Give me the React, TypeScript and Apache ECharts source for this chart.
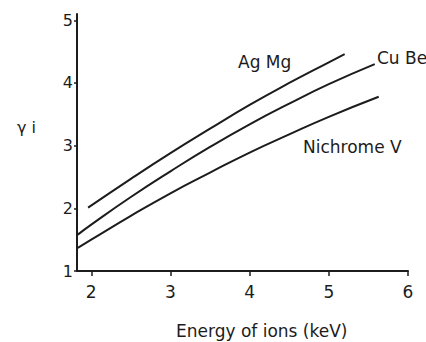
import React, { useEffect, useRef } from "react";
import * as echarts from "echarts";

const xTicks = [2, 3, 4, 5, 6];
const yTicks = [1, 2, 3, 4, 5];

const agMgX = [1.96, 2.5, 3.0, 3.5, 4.0, 4.5, 5.0, 5.2];
const agMgY = [2.01, 2.47, 2.88, 3.27, 3.65, 4.0, 4.33, 4.46];

const cuBeX = [1.83, 2.0, 2.5, 3.0, 3.5, 4.0, 4.5, 5.0, 5.58];
const cuBeY = [1.58, 1.74, 2.18, 2.59, 2.98, 3.34, 3.67, 3.98, 4.3];

const nichromeX = [1.83, 2.0, 2.5, 3.0, 3.5, 4.0, 4.5, 5.0, 5.63];
const nichromeY = [1.37, 1.5, 1.88, 2.24, 2.57, 2.89, 3.18, 3.46, 3.78];

const seriesNames = ["Ag Mg", "Cu Be", "Nichrome V"];
const xTitle = "Energy of ions (keV)";
const yTitle = "γ i";

const zip = (xs: number[], ys: number[]) => xs.map((x, i) => [x, ys[i]]);

export default function App() {
  const ref = useRef<HTMLDivElement>(null);
  useEffect(() => {
    if (!ref.current) return;
    const chart = echarts.init(ref.current, null, { renderer: "svg" });
    const font = "DejaVu Sans";
    const ink = "#1c1c1c";
    const lineStyle = { color: ink, width: 2 };
    chart.setOption({
      animation: false,
      backgroundColor: "#fff",
      grid: { left: 77, right: 18, top: 14, bottom: 71 },
      xAxis: {
        type: "value",
        min: 1.82,
        max: 6.0,
        axisLine: { show: true, lineStyle: { color: ink, width: 2 } },
        axisTick: { show: true, length: 5, customValues: xTicks, lineStyle: { color: ink, width: 1.5 } },
        axisLabel: { customValues: xTicks, color: ink, fontFamily: font, fontSize: 17, margin: 12 },
        splitLine: { show: false },
      },
      yAxis: {
        type: "value",
        min: 1,
        max: 5.1,
        axisLine: { show: true, lineStyle: { color: ink, width: 2 } },
        axisTick: { show: true, length: 3, customValues: yTicks, lineStyle: { color: ink, width: 1.5 } },
        axisLabel: { customValues: yTicks, color: ink, fontFamily: font, fontSize: 16, margin: 4 },
        splitLine: { show: false },
      },
      graphic: [
        { type: "text", left: 176, top: 322, style: { text: xTitle, font: `17px ${font}`, fill: ink } },
        { type: "text", left: 17, top: 119, style: { text: yTitle, font: `16px ${font}`, fill: ink } },
        { type: "text", left: 238, top: 53, style: { text: seriesNames[0], font: `17px ${font}`, fill: ink } },
        { type: "text", left: 377, top: 49, style: { text: seriesNames[1], font: `17px ${font}`, fill: ink } },
        { type: "text", left: 303, top: 138, style: { text: seriesNames[2], font: `17px ${font}`, fill: ink } },
      ],
      series: [
        { name: seriesNames[0], type: "line", smooth: true, showSymbol: false, data: zip(agMgX, agMgY), lineStyle },
        { name: seriesNames[1], type: "line", smooth: true, showSymbol: false, data: zip(cuBeX, cuBeY), lineStyle },
        { name: seriesNames[2], type: "line", smooth: true, showSymbol: false, data: zip(nichromeX, nichromeY), lineStyle },
      ],
    });
    return () => chart.dispose();
  }, []);
  return <div ref={ref} style={{ width: 426, height: 342, position: "absolute", left: 0, top: 0 }} />;
}
